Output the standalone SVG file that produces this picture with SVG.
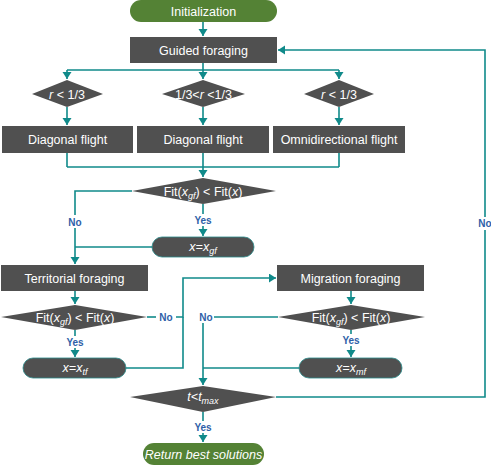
<svg xmlns="http://www.w3.org/2000/svg" width="491" height="469" viewBox="0 0 491 469">
<defs>
<marker id="ah" markerUnits="userSpaceOnUse" markerWidth="10" markerHeight="10" refX="7" refY="4.5" orient="auto">
<path d="M0,0 L7,4.5 L0,9 z" fill="#108a8a"/>
</marker>
<style>
.box{fill:#505050}
.pill{fill:#505050;stroke:#2a8a8a;stroke-width:0.8}
.green{fill:#548235}
.t{font-family:"Liberation Sans",Arial,sans-serif;font-size:12.5px;fill:#ffffff;text-anchor:middle}
.i{font-style:italic}
.s{font-size:9px;font-style:italic}
.c{fill:none;stroke:#108a8a;stroke-width:1.6}
.a{marker-end:url(#ah)}
.lb{font-family:"Liberation Sans",Arial,sans-serif;font-size:10px;font-weight:bold;fill:#2f5fa8;text-anchor:middle}
</style>
</defs>
<g id="connectors">
<path class="c a" d="M203,22 V36"/>
<path class="c" d="M203,63 V70 M67,70 H339"/>
<path class="c a" d="M67,70 V79"/>
<path class="c a" d="M203,70 V79"/>
<path class="c a" d="M339,70 V79"/>
<path class="c a" d="M67,107 V125"/>
<path class="c a" d="M203,107 V125"/>
<path class="c a" d="M339,107 V125"/>
<path class="c" d="M67,153 V167 M203,153 V167 M339,153 V167 M67,167 H339"/>
<path class="c a" d="M203,167 V177"/>
<path class="c" d="M132,191 H75 V215"/>
<path class="c a" d="M75,228 V264"/>
<path class="c" d="M152,247 H75"/>
<path class="c" d="M203,204 V214"/>
<path class="c a" d="M203,226 V236"/>
<path class="c a" d="M75,291 V304"/>
<path class="c" d="M147,317 H156"/>
<path class="c a" d="M176,317 H183 V278 H276"/>
<path class="c" d="M126,368 H183 V317"/>
<path class="c" d="M75,330 V336"/>
<path class="c a" d="M75,348 V357"/>
<path class="c a" d="M351,291 V304"/>
<path class="c" d="M278,317 H214"/>
<path class="c a" d="M203,323 V385"/>
<path class="c" d="M299,368 H203"/>
<path class="c" d="M351,330 V334"/>
<path class="c a" d="M351,346 V357"/>
<path class="c" d="M276,397 H485 V230"/>
<path class="c a" d="M485,217 V50 H278"/>
<path class="c" d="M203,412 V421"/>
<path class="c a" d="M203,433 V442"/>
<text class="lb" x="75" y="226">No</text>
<text class="lb" x="203" y="224">Yes</text>
<text class="lb" x="166" y="320.5">No</text>
<text class="lb" x="206" y="320.5">No</text>
<text class="lb" x="75" y="345.5">Yes</text>
<text class="lb" x="351" y="343.5">Yes</text>
<text class="lb" x="485" y="227">No</text>
<text class="lb" x="203" y="430.5">Yes</text>
</g>
<g id="init"><rect class="green" x="130" y="0" width="147" height="22" rx="11"/><text class="t" x="203.5" y="15.5">Initialization</text></g>
<g id="guided"><rect class="box" x="130" y="37" width="147" height="26"/><text class="t" x="203.5" y="54.5">Guided foraging</text></g>
<g id="d1"><polygon class="box" points="32,94 67,80 103,94 67,107"/><text class="t" x="67" y="98.5"><tspan class="i">r</tspan> &lt; 1/3</text></g>
<g id="d2"><polygon class="box" points="162,94 203,80 245,94 203,107"/><text class="t" x="203.5" y="98.5">1/3&lt;<tspan class="i">r</tspan> &lt;1/3</text></g>
<g id="d3"><polygon class="box" points="304,94 339,80 374,94 339,107"/><text class="t" x="339" y="98.5"><tspan class="i">r</tspan> &lt; 1/3</text></g>
<g id="b1"><rect class="box" x="2" y="126" width="131" height="27"/><text class="t" x="67.5" y="143.5">Diagonal flight</text></g>
<g id="b2"><rect class="box" x="137" y="126" width="132" height="27"/><text class="t" x="203" y="143.5">Diagonal flight</text></g>
<g id="b3"><rect class="box" x="273" y="126" width="132" height="27"/><text class="t" x="339" y="143.5">Omnidirectional flight</text></g>
<g id="fit1"><polygon class="box" points="132,191 203,178 276,191 203,204"/><text class="t" x="203" y="195.5">Fit(<tspan class="i">x</tspan><tspan class="s" dy="3">gf</tspan><tspan dy="-3">) &lt; Fit(</tspan><tspan class="i">x</tspan>)</text></g>
<g id="xgf"><rect class="pill" x="152" y="237" width="102" height="20" rx="10"/><text class="t i" x="203" y="251"><tspan>x=x</tspan><tspan class="s" dy="3">gf</tspan></text></g>
<g id="territorial"><rect class="box" x="1" y="265" width="147" height="26"/><text class="t" x="74.5" y="282.5">Territorial foraging</text></g>
<g id="migration"><rect class="box" x="277" y="265" width="147" height="26"/><text class="t" x="350.5" y="282.5">Migration foraging</text></g>
<g id="fit2"><polygon class="box" points="1,317 75,305 147,317 75,330"/><text class="t" x="75" y="321.5">Fit(<tspan class="i">x</tspan><tspan class="s" dy="3">gf</tspan><tspan dy="-3">) &lt; Fit(</tspan><tspan class="i">x</tspan>)</text></g>
<g id="fit3"><polygon class="box" points="278,317 351,305 425,317 351,330"/><text class="t" x="351" y="321.5">Fit(<tspan class="i">x</tspan><tspan class="s" dy="3">gf</tspan><tspan dy="-3">) &lt; Fit(</tspan><tspan class="i">x</tspan>)</text></g>
<g id="xtf"><rect class="pill" x="23" y="358" width="103" height="20" rx="10"/><text class="t i" x="75" y="372"><tspan>x=x</tspan><tspan class="s" dy="3">tf</tspan></text></g>
<g id="xmf"><rect class="pill" x="299" y="358" width="103" height="20" rx="10"/><text class="t i" x="351" y="372"><tspan>x=x</tspan><tspan class="s" dy="3">mf</tspan></text></g>
<g id="tmax"><polygon class="box" points="130,397 203,386 276,397 203,412"/><text class="t i" x="203" y="401"><tspan>t&lt;t</tspan><tspan class="s" dy="3">max</tspan></text></g>
<g id="return"><rect class="green" x="143" y="443" width="121" height="22" rx="11"/><text class="t i" x="203.5" y="458.5">Return best solutions</text></g>
</svg>
